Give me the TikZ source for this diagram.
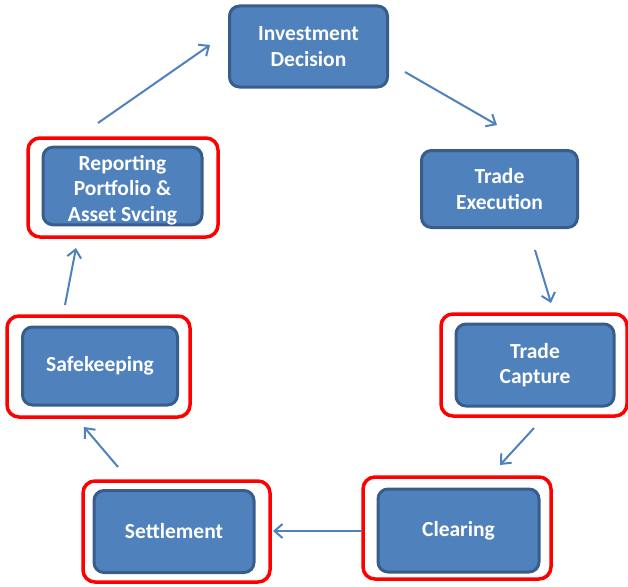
\documentclass[tikz,border=0pt]{standalone}
\usepackage{fontspec}
\setmainfont{Carlito}
\usetikzlibrary{arrows.meta}
\definecolor{boxfill}{HTML}{4F81BD}
\definecolor{boxline}{HTML}{385D8A}
\definecolor{hl}{HTML}{FF0000}
\tikzset{
  x=1pt,y=-1pt,
  stepbox/.style={draw=boxline,line width=3pt,fill=boxfill,rounded corners=10pt,
    text=white,font=\fontsize{21.5}{25.5}\selectfont\bfseries,align=center,inner sep=0pt},
  hlbox/.style={draw=hl,line width=3.5pt,rounded corners=12pt},
  conn/.style={draw=boxfill,line width=2pt,-{Straight Barb[length=8pt,width=14pt,line width=2pt]}}
}
\begin{document}
\begin{tikzpicture}
\useasboundingbox (0,0) rectangle (628,586);
% red highlight frames
\draw[hlbox] (28,138) rectangle (218,237);
\draw[hlbox] (7,316) rectangle (190,417);
\draw[hlbox] (441,314) rectangle (627,416);
\draw[hlbox] (363,477) rectangle (551,579);
\draw[hlbox] (83,481) rectangle (270,582);
% boxes
\node[stepbox,minimum width=158pt,minimum height=81pt] (inv) at (308.5,46.5) {Investment\\Decision};
\node[stepbox,minimum width=156pt,minimum height=77pt] (exe) at (499.5,189) {Trade\\Execution};
\node[stepbox,minimum width=158pt,minimum height=82pt] (cap) at (535,365) {Trade\\Capture};
\node[stepbox,minimum width=161pt,minimum height=83pt] (clr) at (458.5,530.5) {Clearing};
\node[stepbox,minimum width=160pt,minimum height=82pt] (set) at (174,531.5) {Settlement};
\node[stepbox,minimum width=155pt,minimum height=78pt] (safe) at (100,366) {Safekeeping};
\node[stepbox,minimum width=159pt,minimum height=74pt] (rep) at (122.5,186) {\rule{0pt}{23pt}Reporting\\Portfolio \&\\Asset Svcing};
% connector end points
\coordinate (a1) at (98,123); \coordinate (a2) at (210,45);
\coordinate (b1) at (405,72); \coordinate (b2) at (497,125);
\coordinate (c1) at (535,250); \coordinate (c2) at (551,303);
\coordinate (d1) at (534,428); \coordinate (d2) at (500,465);
\coordinate (e1) at (362,531); \coordinate (e2) at (273,531);
\coordinate (f1) at (118,467); \coordinate (f2) at (84,427);
\coordinate (g1) at (65,305); \coordinate (g2) at (76,248);
\draw[conn] (a1) -- (a2);
\draw[conn] (b1) -- (b2);
\draw[conn] (c1) -- (c2);
\draw[conn] (d1) -- (d2);
\draw[conn] (e1) -- (e2);
\draw[conn] (f1) -- (f2);
\draw[conn] (g1) -- (g2);
\end{tikzpicture}
\end{document}
